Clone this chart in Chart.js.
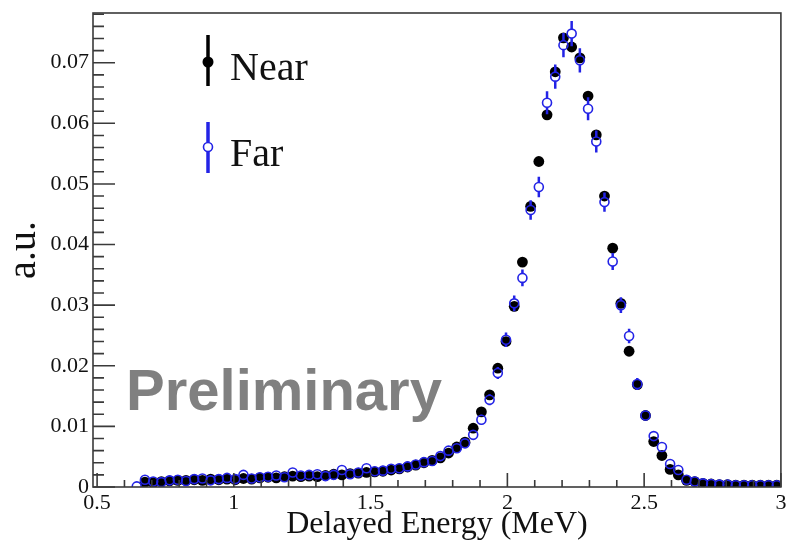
<!DOCTYPE html>
<html>
<head>
<meta charset="utf-8">
<script src="https://cdn.jsdelivr.net/npm/chart.js@4.4.0/dist/chart.umd.min.js"></script>
<style>
  html, body { margin: 0; padding: 0; background: #fff; }
  #wrap { width: 787px; height: 544px; }
</style>
</head>
<body>
<div id="wrap"><canvas id="chartEnergia" width="787" height="544"></canvas></div>
<script>
// ==================== DADOS (centro de cada bin, MeV) ====================
const energy = [
  0.645, 0.675, 0.705, 0.735, 0.765, 0.795, 0.825, 0.855, 0.885, 0.915,
  0.945, 0.975, 1.005, 1.035, 1.065, 1.095, 1.125, 1.155, 1.185, 1.215,
  1.245, 1.275, 1.305, 1.335, 1.365, 1.395, 1.425, 1.455, 1.485, 1.515,
  1.545, 1.575, 1.605, 1.635, 1.665, 1.695, 1.725, 1.755, 1.785, 1.815,
  1.845, 1.875, 1.905, 1.935, 1.965, 1.995, 2.025, 2.055, 2.085, 2.115,
  2.145, 2.175, 2.205, 2.235, 2.265, 2.295, 2.325, 2.355, 2.385, 2.415,
  2.445, 2.475, 2.505, 2.535, 2.565, 2.595, 2.625, 2.655, 2.685, 2.715,
  2.745, 2.775, 2.805, 2.835, 2.865, 2.895, 2.925, 2.955, 2.985
];
const near = [
  null,   0.0008, 0.0007, 0.0009, 0.0010, 0.0011, 0.0011, 0.0012, 0.0011, 0.0013,
  0.0012, 0.0013, 0.0012, 0.0014, 0.0013, 0.0015, 0.0016, 0.0015, 0.0017, 0.0018,
  0.0017, 0.0018, 0.0017, 0.0019, 0.0021, 0.0020, 0.0022, 0.0023, 0.0024, 0.0025,
  0.0026, 0.0028, 0.0030, 0.0033, 0.0036, 0.0040, 0.0044, 0.0048, 0.0056, 0.0066,
  0.0074, 0.0097, 0.0124, 0.0152, 0.0196, 0.0240, 0.0298, 0.0371, 0.0463, 0.0537,
  0.0614, 0.0685, 0.0741, 0.0726, 0.0708, 0.0645, 0.0581, 0.0480, 0.0394, 0.0303,
  0.0224, 0.0169, 0.0118, 0.0075, 0.0052, 0.0029, 0.0020, 0.0011, 0.0009, 0.0006,
  0.0005, 0.0004, 0.0004, 0.0003, 0.0003, 0.0003, 0.0003, 0.0003, 0.0003
];
const nearErr = [
  null,   0.0001, 0.0001, 0.0001, 0.0001, 0.0001, 0.0001, 0.0001, 0.0001, 0.0001,
  0.0001, 0.0001, 0.0001, 0.0001, 0.0001, 0.0001, 0.0001, 0.0001, 0.0001, 0.0001,
  0.0001, 0.0001, 0.0001, 0.0001, 0.0001, 0.0001, 0.0001, 0.0001, 0.0001, 0.0001,
  0.0002, 0.0002, 0.0002, 0.0002, 0.0002, 0.0002, 0.0002, 0.0002, 0.0003, 0.0003,
  0.0003, 0.0004, 0.0004, 0.0004, 0.0005, 0.0005, 0.0006, 0.0006, 0.0007, 0.0007,
  0.0008, 0.0008, 0.0009, 0.0009, 0.0009, 0.0008, 0.0008, 0.0007, 0.0007, 0.0006,
  0.0005, 0.0005, 0.0004, 0.0003, 0.0003, 0.0002, 0.0002, 0.0001, 0.0001, 0.0001,
  0.0001, 0.0001, 0.0001, 0.0001, 0.0001, 0.0001, 0.0001, 0.0001, 0.0001
];
const far = [
  0.0001, 0.0012, 0.0009, 0.0008, 0.0011, 0.0012, 0.0010, 0.0013, 0.0014, 0.0011,
  0.0013, 0.0015, 0.0013, 0.0020, 0.0014, 0.0016, 0.0017, 0.0019, 0.0016, 0.0024,
  0.0019, 0.0020, 0.0021, 0.0018, 0.0020, 0.0028, 0.0021, 0.0024, 0.0031, 0.0026,
  0.0027, 0.0030, 0.0031, 0.0034, 0.0037, 0.0041, 0.0043, 0.0051, 0.0060, 0.0064,
  0.0072, 0.0086, 0.0111, 0.0144, 0.0188, 0.0243, 0.0303, 0.0345, 0.0457, 0.0495,
  0.0634, 0.0677, 0.0729, 0.0748, 0.0704, 0.0624, 0.0570, 0.0470, 0.0372, 0.0300,
  0.0249, 0.0170, 0.0118, 0.0084, 0.0066, 0.0038, 0.0028, 0.0012, 0.0009, 0.0006,
  0.0005, 0.0004, 0.0004, 0.0003, 0.0003, 0.0003, 0.0003, 0.0003, 0.0003
];
const farErr = [
  0.0002, 0.0002, 0.0002, 0.0002, 0.0002, 0.0002, 0.0002, 0.0002, 0.0002, 0.0002,
  0.0003, 0.0003, 0.0003, 0.0003, 0.0003, 0.0003, 0.0003, 0.0003, 0.0003, 0.0003,
  0.0003, 0.0003, 0.0003, 0.0003, 0.0003, 0.0003, 0.0003, 0.0003, 0.0003, 0.0003,
  0.0004, 0.0004, 0.0004, 0.0004, 0.0004, 0.0004, 0.0004, 0.0005, 0.0005, 0.0006,
  0.0006, 0.0007, 0.0008, 0.0009, 0.0010, 0.0012, 0.0013, 0.0014, 0.0016, 0.0017,
  0.0019, 0.0020, 0.0020, 0.0021, 0.0020, 0.0019, 0.0018, 0.0016, 0.0014, 0.0013,
  0.0012, 0.0010, 0.0008, 0.0007, 0.0006, 0.0005, 0.0004, 0.0003, 0.0002, 0.0002,
  0.0002, 0.0002, 0.0002, 0.0002, 0.0002, 0.0002, 0.0002, 0.0002, 0.0002
];
const xTickValues = [0.5, 1, 1.5, 2, 2.5, 3];
const xTickLabels = ['0.5', '1', '1.5', '2', '2.5', '3'];
const yTickValues = [0, 0.01, 0.02, 0.03, 0.04, 0.05, 0.06, 0.07];
const yTickLabels = ['0', '0.01', '0.02', '0.03', '0.04', '0.05', '0.06', '0.07'];

const corNear = '#000000';
const corFar = '#2323e6';
const serif = 'Liberation Serif';

// ==================== PLUGIN: barras de erro, moldura, ticks, legenda ====================
const pluginRoot = {
  id: 'pluginRoot',
  afterDatasetDraw(chart, args) {
    const ds = chart.data.datasets[args.index];
    const yScale = chart.scales.y;
    const area = chart.chartArea;
    const ctx = chart.ctx;
    ctx.save();
    ctx.beginPath();
    ctx.rect(area.left, area.top, area.right - area.left, area.bottom - area.top);
    ctx.clip();
    ctx.strokeStyle = ds.borderColor;
    ctx.lineWidth = ds.errWidth;
    args.meta.data.forEach((el, i) => {
      const raw = ds.data[i];
      if (!raw || raw.y == null || raw.err == null) return;
      const r = ds.pointRadius;
      const yTop = yScale.getPixelForValue(raw.y + raw.err);
      const yBot = yScale.getPixelForValue(raw.y - raw.err);
      ctx.beginPath();
      if (yTop < el.y - r) { ctx.moveTo(el.x, yTop); ctx.lineTo(el.x, el.y - r); }
      if (yBot > el.y + r) { ctx.moveTo(el.x, el.y + r); ctx.lineTo(el.x, yBot); }
      ctx.stroke();
    });
    ctx.restore();
  },
  afterDraw(chart) {
    const ctx = chart.ctx;
    const a = chart.chartArea;
    const xs = chart.scales.x;
    const ys = chart.scales.y;
    ctx.save();
    ctx.strokeStyle = '#3a3a3a';
    ctx.lineWidth = 1.6;
    ctx.strokeRect(a.left, a.top, a.right - a.left, a.bottom - a.top);

    // ticks para dentro (estilo ROOT)
    ctx.beginPath();
    for (let i = 0; i <= 39; i++) {
      const py = ys.getPixelForValue(i * 0.002);
      if (py < a.top) break;
      const len = i % 5 === 0 ? 22 : 11;
      ctx.moveTo(a.left, py); ctx.lineTo(a.left + len, py);
    }
    for (let i = 5; i <= 30; i++) {
      const px = xs.getPixelForValue(i / 10);
      const len = i % 5 === 0 ? 14 : 7;
      ctx.moveTo(px, a.bottom); ctx.lineTo(px, a.bottom - len);
    }
    ctx.stroke();

    // legenda
    ctx.lineWidth = 3.5;
    ctx.strokeStyle = corNear;
    ctx.beginPath(); ctx.moveTo(208, 35); ctx.lineTo(208, 86); ctx.stroke();
    ctx.fillStyle = corNear;
    ctx.beginPath(); ctx.arc(208, 62, 5.5, 0, Math.PI * 2); ctx.fill();

    ctx.strokeStyle = corFar;
    ctx.beginPath(); ctx.moveTo(208, 122); ctx.lineTo(208, 142.5); ctx.moveTo(208, 151.5); ctx.lineTo(208, 173); ctx.stroke();
    ctx.lineWidth = 1.6;
    ctx.fillStyle = '#fff';
    ctx.beginPath(); ctx.arc(208, 147, 4.5, 0, Math.PI * 2); ctx.fill(); ctx.stroke();

    ctx.fillStyle = '#111';
    ctx.font = '40px "' + serif + '"';
    ctx.textAlign = 'left';
    ctx.textBaseline = 'alphabetic';
    ctx.fillText('Near', 230, 80);
    ctx.fillText('Far', 230, 166);

    // marca d'agua
    ctx.fillStyle = '#808080';
    ctx.font = 'bold 58px "Liberation Sans"';
    ctx.fillText('Preliminary', 126, 410);
    ctx.restore();
  }
};

// ==================== GRAFICO ====================
const cxEnergia = document.getElementById('chartEnergia');
const chtEnergia = new Chart(cxEnergia, {
  type: 'scatter',
  data: {
    datasets: [
      {
        label: 'Far',
        data: energy.map((e, i) => ({ x: e, y: far[i], err: farErr[i] })),
        pointRadius: 4.5,
        pointStyle: 'circle',
        backgroundColor: 'rgba(0,0,0,0)',
        borderColor: corFar,
        borderWidth: 1.6,
        errWidth: 2.5,
        order: 0,
      },
      {
        label: 'Near',
        data: energy.map((e, i) => ({ x: e, y: near[i], err: nearErr[i] })),
        pointRadius: 5.4,
        pointStyle: 'circle',
        backgroundColor: corNear,
        borderColor: corNear,
        borderWidth: 0,
        errWidth: 2,
        order: 1,
      },
    ]
  },
  options: {
    responsive: false,
    animation: false,
    devicePixelRatio: 1,
    layout: { padding: { top: 13, right: 3, left: 0, bottom: 0 } },
    plugins: {
      legend: { display: false },
      title: { display: false },
      tooltip: { enabled: false },
    },
    scales: {
      x: {
        type: 'linear',
        min: 0.485,
        max: 3.0,
        afterBuildTicks: (s) => { s.ticks = xTickValues.map(v => ({ value: v })); },
        afterFit: (s) => { s.height = 57; s.paddingLeft = 0; s.paddingRight = 0; },
        ticks: {
          callback: (v, i) => xTickLabels[i],
          font: { family: serif, size: 22 },
          color: '#111',
          padding: 3,
          maxRotation: 0,
          autoSkip: false,
        },
        grid: { display: false, drawTicks: false },
        border: { display: false },
        title: {
          display: true,
          text: 'Delayed Energy (MeV)',
          font: { family: serif, size: 32 },
          color: '#111',
          padding: { top: 0, bottom: 0 },
        },
      },
      y: {
        type: 'linear',
        min: 0,
        max: 0.0782,
        afterBuildTicks: (s) => { s.ticks = yTickValues.map(v => ({ value: v })); },
        afterFit: (s) => { s.width = 93; s.paddingTop = 0; s.paddingBottom = 0; },
        ticks: {
          callback: (v, i) => yTickLabels[i],
          font: { family: serif, size: 22 },
          color: '#111',
          padding: 4,
          autoSkip: false,
        },
        grid: { display: false, drawTicks: false },
        border: { display: false },
        title: {
          display: true,
          text: 'a.u.',
          font: { family: serif, size: 40 },
          color: '#111',
          padding: { top: 0, bottom: 0 },
        },
      },
    },
  },
  plugins: [pluginRoot],
});
</script>
</body>
</html>
